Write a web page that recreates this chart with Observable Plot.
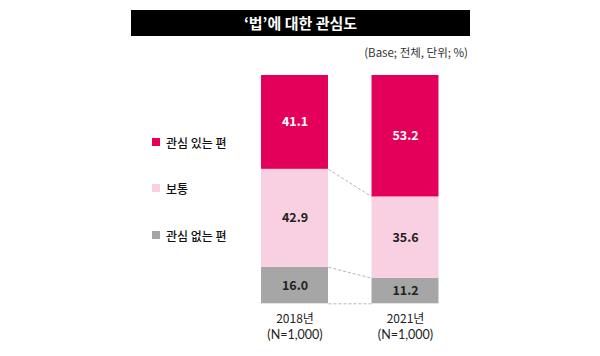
<!DOCTYPE html>
<html><head><meta charset="utf-8">
<script src="https://cdn.jsdelivr.net/npm/d3@7"></script>
<script src="https://cdn.jsdelivr.net/npm/@observablehq/plot@0.6"></script>
<style>
body{margin:0;background:#fff;font-family:"Noto Sans CJK KR","Noto Sans",sans-serif;}
#wrap{position:relative;width:600px;height:356px;overflow:hidden;}
#title{position:absolute;left:131px;top:10px;width:339px;height:26px;background:#000;color:#fff;font-weight:700;font-size:15px;line-height:26px;text-align:center;}
#sub{position:absolute;right:132px;top:44px;font-size:11.5px;color:#333;}
#legend{position:absolute;left:152px;top:0;}
.li{position:absolute;left:0;white-space:nowrap;font-size:12px;font-weight:500;color:#111;display:flex;align-items:center;height:16px;}
.sw{width:8px;height:8px;margin-right:6px;display:inline-block;}
#chart{position:absolute;left:0;top:0;}
</style></head>
<body><div id="wrap"><div id="chart"></div><div id="title"></div><div id="sub"></div><div id="legend"></div></div>
<script>
const yearLabels = ["2018년", "2021년"];
const sampleLabels = ["(N=1,000)", "(N=1,000)"];
const categories = ["관심 있는 편", "보통", "관심 없는 편"];
const colors = ["#E4005A", "#F9D0E2", "#A6A6A6"];
const interested = [41.1, 53.2];
const neutral = [42.9, 35.6];
const notInterested = [16.0, 11.2];
const titleText = "‘법’에 대한 관심도";
const subText = "(Base; 전체, 단위; %)";

document.getElementById("title").textContent = titleText;
document.getElementById("sub").textContent = subText;
const legendTops = [134, 180, 227];
const lg = document.getElementById("legend");
categories.forEach((c, k) => {
  const d = document.createElement("div");
  d.className = "li"; d.style.top = legendTops[k] + "px";
  d.innerHTML = `<span class="sw" style="background:${colors[k]}"></span>${c}`;
  lg.appendChild(d);
});

const series = [
  {cat: categories[2], vals: notInterested, color: colors[2], text: "#222"},
  {cat: categories[1], vals: neutral, color: colors[1], text: "#222"},
  {cat: categories[0], vals: interested, color: colors[0], text: "#fff"}
];
const rows = [];
yearLabels.forEach((y, i) => {
  let base = 0;
  series.forEach(s => {
    const v = s.vals[i];
    rows.push({i, cat: s.cat, value: v, y1: base, y2: base + v, fill: s.color, tc: s.text});
    base += v;
  });
});
const half = 0.303;
const bounds = [0, 1, 2].map(k => {
  const r0 = rows.filter(r => r.i === 0)[k], r1 = rows.filter(r => r.i === 1)[k];
  return {a: r0.y1, b: r1.y1};
});
const xl = yearLabels.map((y, i) => ({i, year: y, n: sampleLabels[i]}));

const plot = Plot.plot({
  width: 600, height: 356,
  marginLeft: 239.25, marginRight: 139.75, marginTop: 75, marginBottom: 52.7,
  x: {type: "linear", domain: [-0.5, 1.5], axis: null},
  y: {domain: [0, 100], axis: null},
  style: {fontFamily: "'Noto Sans CJK KR','Noto Sans',sans-serif", background: "transparent"},
  marks: [
    Plot.rect(rows, {x1: d => d.i - half, x2: d => d.i + half, y1: "y1", y2: "y2", fill: d => d.fill}),
    Plot.link(bounds, {x1: 0 + half, x2: 1 - half, y1: "a", y2: "b", stroke: "#b5b5b5", strokeWidth: 1, strokeDasharray: "3,2"}),
    Plot.text(rows, {x: "i", y: d => (d.y1 + d.y2) / 2, text: d => d.value.toFixed(1), fill: d => d.tc, fontSize: 12.5, fontWeight: 700}),
    Plot.text(xl, {x: "i", y: 0, text: "year", dy: 15, fontSize: 12, fill: "#222"}),
    Plot.text(xl, {x: "i", y: 0, text: "n", dy: 31.5, fontSize: 12.5, fill: "#222", fontFamily: "Lato"})
  ]
});
document.getElementById("chart").appendChild(plot);
</script></body></html>
